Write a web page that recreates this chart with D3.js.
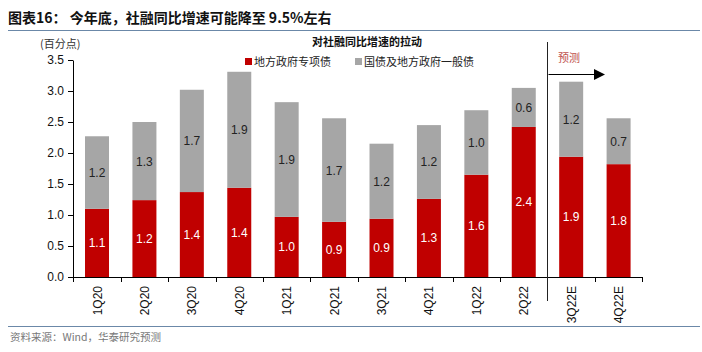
<!DOCTYPE html>
<html><head><meta charset="utf-8">
<script src="https://cdn.jsdelivr.net/npm/d3@7/dist/d3.min.js"></script>
<style>body{margin:0;background:#fff;}svg{display:block;}</style>
</head><body>
<script>
const categories = ["1Q20","2Q20","3Q20","4Q20","1Q21","2Q21","3Q21","4Q21","1Q22","2Q22","3Q22E","4Q22E"];
const specialBonds = [1.10,1.24,1.37,1.44,0.97,0.89,0.94,1.26,1.65,2.42,1.94,1.82];
const generalBonds = [1.17,1.26,1.65,1.87,1.85,1.67,1.21,1.19,1.04,0.63,1.21,0.74];
const specialLabels = ["1.1","1.2","1.4","1.4","1.0","0.9","0.9","1.3","1.6","2.4","1.9","1.8"];
const generalLabels = ["1.2","1.3","1.7","1.9","1.9","1.7","1.2","1.2","1.0","0.6","1.2","0.7"];
const yTicks = [0,0.5,1,1.5,2,2.5,3,3.5];
const seriesNames = ["地方政府专项债","国债及地方政府一般债"];

const W=702,H=352;
const svg=d3.select("body").append("svg").attr("width",W).attr("height",H);
const font="Arial, 'Liberation Sans', sans-serif";
const cjk="'Noto Sans CJK SC', sans-serif";
const red="#C00000", gray="#A6A6A6";

svg.append("text").attr("x",8).attr("y",23).attr("font-family",cjk).attr("font-weight","bold")
  .attr("font-size",14).attr("fill","#111").text("图表16： 今年底，社融同比增速可能降至 9.5%左右");
svg.append("line").attr("x1",8).attr("x2",700).attr("y1",30.5).attr("y2",30.5).attr("stroke","#6b88a8").attr("stroke-width",1);
svg.append("line").attr("x1",8).attr("x2",700).attr("y1",326.5).attr("y2",326.5).attr("stroke","#6b88a8").attr("stroke-width",1);
svg.append("text").attr("x",10).attr("y",341).attr("font-family",cjk).attr("font-size",10.5).attr("fill","#777")
  .text("资料来源：Wind，华泰研究预测");

svg.append("text").attr("x",40).attr("y",48).attr("font-family",cjk).attr("font-size",11).attr("fill","#333").text("(百分点)");
svg.append("text").attr("x",367).attr("y",46).attr("text-anchor","middle").attr("font-family",cjk).attr("font-weight","bold")
  .attr("font-size",11).attr("fill","#111").text("对社融同比增速的拉动");

const x0r=73.3, x1r=642.3;
const x=d3.scaleBand().domain(categories).range([x0r,x1r]).paddingInner(0.494).paddingOuter(0.247);
const y=d3.scaleLinear().domain([0,3.5]).range([277,60]);

const yAxis=svg.append("g").attr("transform","translate(73,0)").call(d3.axisLeft(y).tickValues(yTicks).tickFormat(d3.format(".1f")).tickSize(5).tickSizeOuter(0));
yAxis.select(".domain").attr("stroke","#000");
yAxis.selectAll(".tick line").attr("stroke","#000");
yAxis.selectAll("text").attr("font-family",font).attr("font-size",12).attr("fill","#111").attr("x",-9);

const g=svg.append("g");
categories.forEach((c,i)=>{
  const bx=x(c), bw=x.bandwidth();
  const r=specialBonds[i], gr=generalBonds[i];
  g.append("rect").attr("x",bx).attr("width",bw).attr("y",y(r)).attr("height",y(0)-y(r)).attr("fill",red);
  g.append("rect").attr("x",bx).attr("width",bw).attr("y",y(r+gr)).attr("height",y(r)-y(r+gr)).attr("fill",gray);
  g.append("text").attr("x",bx+bw/2).attr("y",(y(0)+y(r))/2+4.5).attr("text-anchor","middle")
    .attr("font-family",font).attr("font-size",12).attr("fill","#fff").text(specialLabels[i]);
  g.append("text").attr("x",bx+bw/2).attr("y",(y(r)+y(r+gr))/2+4.5).attr("text-anchor","middle")
    .attr("font-family",font).attr("font-size",12).attr("fill","#222").text(generalLabels[i]);
});

// x axis
const step=x.step();
const xa=svg.append("g");
xa.append("line").attr("x1",73).attr("x2",x1r).attr("y1",277.5).attr("y2",277.5).attr("stroke","#000");
d3.range(categories.length+1).forEach(k=>{
  const xx=Math.round(x0r+k*step)+0.5;
  xa.append("line").attr("x1",xx).attr("x2",xx).attr("y1",277).attr("y2",282).attr("stroke","#000");
});
categories.forEach(c=>{
  const cx=x(c)+x.bandwidth()/2;
  xa.append("text").attr("transform",`translate(${cx+4.5},286) rotate(-90)`).attr("text-anchor","end")
    .attr("font-family",font).attr("font-size",12).attr("fill","#111").text(c);
});

// forecast divider
const divX=Math.round(x0r+10*step)+0.5;
svg.append("line").attr("x1",divX).attr("x2",divX).attr("y1",42).attr("y2",301).attr("stroke","#222").attr("stroke-width",1);
svg.append("line").attr("x1",divX+1).attr("x2",595).attr("y1",74.5).attr("y2",74.5).attr("stroke","#000").attr("stroke-width",1.2);
svg.append("path").attr("d",`M594,69 L605,74.5 L594,80 Z`).attr("fill","#000");
svg.append("text").attr("x",569).attr("y",62).attr("text-anchor","middle").attr("font-family",cjk).attr("font-size",11)
  .attr("fill","#c0504d").text("预测");

// legend
const leg=svg.append("g");
[[red,seriesNames[0],245],[gray,seriesNames[1],355]].forEach(([col,name,lx])=>{
  leg.append("rect").attr("x",lx).attr("y",58).attr("width",7).attr("height",7).attr("fill",col);
  leg.append("text").attr("x",lx+9).attr("y",65.5).attr("font-family",cjk).attr("font-size",11).attr("fill","#222").text(name);
});
</script>
</body></html>
